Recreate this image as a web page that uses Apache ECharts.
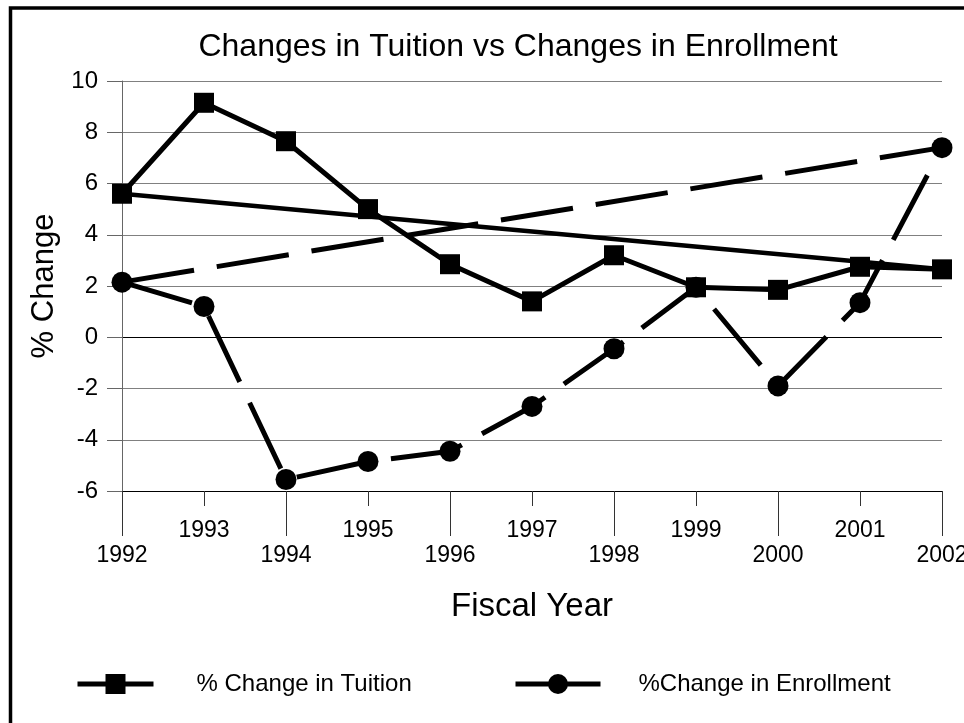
<!DOCTYPE html>
<html>
<head>
<meta charset="utf-8">
<script src="https://cdn.jsdelivr.net/npm/echarts@6/dist/echarts.min.js"></script>
<style>
html,body{margin:0;padding:0;background:#fff;}
#chart{width:964px;height:723px;}
</style>
</head>
<body>
<div id="chart"></div>
<script>
const years = ['1992','1993','1994','1995','1996','1997','1998','1999','2000','2001','2002'];
const tuition = [5.6, 9.15, 7.65, 5.0, 2.85, 1.4, 3.2, 1.95, 1.85, 2.75, 2.65];
const enrollment = [2.15, 1.2, -5.55, -4.85, -4.45, -2.7, -0.45, 1.95, -1.9, 1.35, 7.4];
const tuitionTrend = [5.6, null, null, null, null, null, null, null, null, null, 2.65];
const enrollmentTrend = [2.15, null, null, null, null, null, null, null, null, null, 7.4];
const yTicks = [-6, -4, -2, 0, 2, 4, 6, 8, 10];

const FONT = '"Liberation Sans", Arial, sans-serif';
const chart = echarts.init(document.getElementById('chart'), null, {renderer: 'canvas'});
const gridLineColors = yTicks.map(v => (v === 0 || v === -6) ? '#000' : '#808080');

chart.setOption({
  animation: false,
  backgroundColor: '#fff',
  title: {
    text: 'Changes in Tuition vs Changes in Enrollment',
    left: 513, top: 26, textAlign: 'center',
    textStyle: {fontFamily: FONT, fontSize: 32, fontWeight: 'normal', color: '#000'}
  },
  graphic: [{
    type: 'rect', left: 8, top: 5.5,
    shape: {x: 0, y: 0, width: 1100, height: 900},
    style: {fill: 'none', stroke: '#000', lineWidth: 3.5},
    silent: true, z: 100
  }],
  grid: {left: 122, right: 22, top: 81, bottom: 232, containLabel: false, outerBoundsMode: 'none'},
  legend: [{
    data: ['% Change in Tuition'],
    left: 75, top: 672, padding: 0, itemWidth: 76, itemHeight: 25,
    lineStyle: {type: 'solid', width: 5},
    textStyle: {fontFamily: FONT, fontSize: 24, color: '#000', padding: [0, 0, 0, 38]}
  }, {
    data: ['%Change in Enrollment'],
    left: 513, top: 672, padding: 0, itemWidth: 85, itemHeight: 25,
    lineStyle: {type: 'solid', width: 5},
    textStyle: {fontFamily: FONT, fontSize: 24, color: '#000', padding: [0, 0, 0, 33]}
  }],
  xAxis: [{
    type: 'category', data: years, boundaryGap: false, position: 'bottom',
    name: 'Fiscal Year', nameLocation: 'middle', nameGap: 99,
    nameTextStyle: {fontFamily: FONT, fontSize: 33, color: '#000'},
    axisLine: {show: true, onZero: false, lineStyle: {color: '#000', width: 1}},
    axisTick: {show: true, length: 45, interval: (i) => i % 2 === 0, lineStyle: {color: '#333'}},
    axisLabel: {interval: (i) => i % 2 === 0, margin: 53, fontFamily: FONT, fontSize: 23, color: '#000'},
    splitLine: {show: false}
  }, {
    type: 'category', data: years, boundaryGap: false, position: 'bottom',
    axisLine: {show: false, onZero: false},
    axisTick: {show: true, length: 15, interval: (i) => i % 2 === 1, lineStyle: {color: '#333'}},
    axisLabel: {interval: (i) => i % 2 === 1, margin: 28, fontFamily: FONT, fontSize: 23, color: '#000'},
    splitLine: {show: false}
  }],
  yAxis: {
    type: 'value', min: -6, max: 10, interval: 2,
    name: '% Change', nameLocation: 'middle', nameGap: 56, nameRotate: 90,
    nameTextStyle: {fontFamily: FONT, fontSize: 31, color: '#000'},
    axisLine: {show: true, lineStyle: {color: '#666', width: 1}},
    axisTick: {show: true, length: 15, lineStyle: {color: '#666'}},
    axisLabel: {margin: 24, fontFamily: FONT, fontSize: 24, color: '#000'},
    splitLine: {show: true, lineStyle: {color: gridLineColors, width: 1}}
  },
  series: [{
    name: 'Tuition trend', type: 'line', data: tuitionTrend, connectNulls: true,
    showSymbol: false, symbol: 'none',
    lineStyle: {color: '#000', width: 4.5, type: 'solid'}, z: 2
  }, {
    name: 'Enrollment trend', type: 'line', data: enrollmentTrend, connectNulls: true,
    showSymbol: false, symbol: 'none',
    lineStyle: {color: '#000', width: 5, type: [73, 23], cap: 'butt'}, z: 2
  }, {
    name: '% Change in Tuition', type: 'line', data: tuition,
    symbol: 'rect', symbolSize: 20,
    itemStyle: {color: '#000'},
    lineStyle: {color: '#000', width: 5, type: 'solid'}, z: 3
  }, {
    name: '%Change in Enrollment', type: 'line', data: enrollment,
    symbol: 'circle', symbolSize: 21,
    itemStyle: {color: '#000'},
    lineStyle: {color: '#000', width: 5, type: [73, 23], cap: 'butt'}, z: 3
  }]
});
</script>
</body>
</html>
